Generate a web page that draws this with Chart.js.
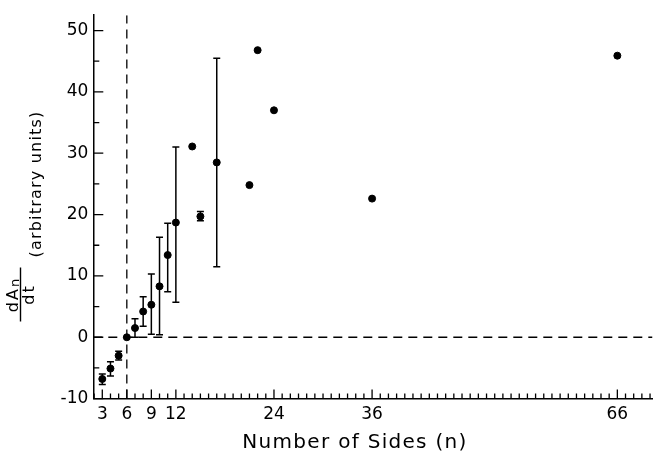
<!DOCTYPE html>
<html>
<head>
<meta charset="utf-8">
<script src="https://cdn.jsdelivr.net/npm/chart.js@4"></script>
<style>
  html, body { margin: 0; padding: 0; background: #fff; }
  #wrap { width: 657px; height: 453px; }
</style>
</head>
<body>
<div id="wrap"><canvas id="sidesChart" width="657" height="453"></canvas></div>
<script>
// data
const nSides   = [3, 4, 5, 6, 7, 8, 9, 10, 11, 12, 14, 15, 17, 21, 22, 24, 36, 66];
const rate     = [-6.8, -5.1, -3.0, 0, 1.5, 4.2, 5.3, 8.3, 13.4, 18.7, 31.1, 19.7, 28.5, 24.8, 46.8, 37.0, 22.6, 45.9];
const errLow   = [-7.7, -6.3, -3.7, null, 0, 1.8, 0.5, 0.4, 7.4, 5.7, null, 19.0, 11.5, null, null, null, null, null];
const errHigh  = [-6.0, -4.0, -2.3, null, 3.0, 6.6, 10.3, 16.3, 18.6, 31.0, null, 20.5, 45.5, null, null, null, null, null];
const xTicks   = [3, 6, 9, 12, 24, 36, 66];
const yTicks   = [-10, 0, 10, 20, 30, 40, 50];
const xRange   = [1.9, 70.3];
const yRange   = [-10, 52.5];
const cutoffN  = 6;

const FONT = "'DejaVu Sans', sans-serif";

function spacing(ctx, px) {
    if ("letterSpacing" in ctx) ctx.letterSpacing = px + "px";
}

// error bars drawn through the scales
const errorBars = {
    id: "errorBars",
    afterDatasetsDraw(chart) {
        const ctx = chart.ctx;
        const xs = chart.scales.x, ys = chart.scales.y;
        ctx.save();
        ctx.strokeStyle = "#000";
        ctx.lineWidth = 1.5;
        nSides.forEach((n, i) => {
            if (errLow[i] === null) return;
            const px = xs.getPixelForValue(n);
            const lo = ys.getPixelForValue(errLow[i]);
            const hi = ys.getPixelForValue(errHigh[i]);
            ctx.beginPath();
            ctx.moveTo(px, lo); ctx.lineTo(px, hi);
            ctx.moveTo(px - 3.5, lo); ctx.lineTo(px + 3.5, lo);
            ctx.moveTo(px - 3.5, hi); ctx.lineTo(px + 3.5, hi);
            ctx.stroke();
        });
        ctx.restore();
    }
};

// inward ticks + axis titles
const axisDecor = {
    id: "axisDecor",
    afterDraw(chart) {
        const ctx = chart.ctx;
        const xs = chart.scales.x, ys = chart.scales.y;
        const area = chart.chartArea;
        ctx.save();
        ctx.strokeStyle = "#000";
        ctx.lineWidth = 1.3;
        ctx.beginPath();
        for (let v = Math.ceil(xRange[0]); v <= Math.floor(xRange[1]); v++) {
            const px = xs.getPixelForValue(v);
            const len = xTicks.includes(v) ? 9 : 5;
            ctx.moveTo(px, area.bottom); ctx.lineTo(px, area.bottom - len);
        }
        for (let v = yRange[0]; v <= yRange[1]; v += 5) {
            const py = ys.getPixelForValue(v);
            const len = v % 10 === 0 ? 10 : 6;
            ctx.moveTo(area.left, py); ctx.lineTo(area.left + len, py);
        }
        ctx.stroke();

        ctx.fillStyle = "#000";
        // x title
        ctx.font = "20px " + FONT;
        ctx.textAlign = "center";
        ctx.textBaseline = "alphabetic";
        spacing(ctx, 1.3);
        ctx.fillText("Number of Sides (n)", 355, 448);

        // y title, rotated
        ctx.rotate(-Math.PI / 2);
        ctx.font = "16px " + FONT;
        spacing(ctx, 1.2);
        ctx.fillText("(arbitrary units)", -184, 41);

        // fraction dA_n / dt
        const mid = -294.5;
        spacing(ctx, 2);
        ctx.font = "16px " + FONT;
        const wdA = ctx.measureText("dA").width;
        ctx.font = "13px " + FONT;
        const wn = ctx.measureText("n").width;
        const start = mid - (wdA + wn) / 2;
        ctx.textAlign = "left";
        ctx.font = "16px " + FONT;
        ctx.fillText("dA", start, 17.5);
        ctx.font = "13px " + FONT;
        ctx.fillText("n", start + wdA, 18.5);
        ctx.textAlign = "center";
        ctx.font = "16px " + FONT;
        ctx.fillText("dt", mid, 34);
        ctx.lineWidth = 1.4;
        ctx.beginPath();
        ctx.moveTo(mid - 27, 20.5); ctx.lineTo(mid + 27, 20.5);
        ctx.stroke();
        ctx.restore();
    }
};

const ctx = document.getElementById("sidesChart").getContext("2d");
new Chart(ctx, {
    type: "scatter",
    data: {
        datasets: [
            {
                data: nSides.map((n, i) => ({ x: n, y: rate[i] })),
                backgroundColor: "#000",
                borderColor: "#000",
                pointRadius: 3.5,
                pointHoverRadius: 3.5
            },
            {
                data: [{ x: cutoffN, y: yRange[0] }, { x: cutoffN, y: yRange[1] }],
                showLine: true,
                borderColor: "#000",
                borderWidth: 1.3,
                borderDash: [9, 6],
                pointRadius: 0
            },
            {
                data: [{ x: xRange[0], y: 0 }, { x: xRange[1], y: 0 }],
                showLine: true,
                borderColor: "#000",
                borderWidth: 1.3,
                borderDash: [9, 6],
                pointRadius: 0
            }
        ]
    },
    options: {
        responsive: false,
        animation: false,
        events: [],
        layout: { padding: { left: 0, right: 2, top: 12, bottom: 0 } },
        plugins: {
            legend: { display: false },
            tooltip: { enabled: false }
        },
        scales: {
            x: {
                type: "linear",
                min: xRange[0],
                max: xRange[1],
                afterBuildTicks: (scale) => { scale.ticks = xTicks.map(v => ({ value: v })); },
                afterFit: (scale) => { scale.height = 54.4; },
                grid: { drawOnChartArea: false, drawTicks: false },
                border: { display: true, color: "#000", width: 1.5 },
                ticks: {
                    color: "#000",
                    padding: 6,
                    maxRotation: 0,
                    autoSkip: false,
                    font: { family: FONT, size: 17 }
                }
            },
            y: {
                type: "linear",
                min: yRange[0],
                max: yRange[1],
                afterBuildTicks: (scale) => { scale.ticks = yTicks.map(v => ({ value: v })); },
                afterFit: (scale) => { scale.width = 93.3; },
                grid: { drawOnChartArea: false, drawTicks: false },
                border: { display: true, color: "#000", width: 1.5 },
                ticks: {
                    color: "#000",
                    padding: 5,
                    font: { family: FONT, size: 17 }
                }
            }
        }
    },
    plugins: [errorBars, axisDecor]
});
</script>
</body>
</html>
